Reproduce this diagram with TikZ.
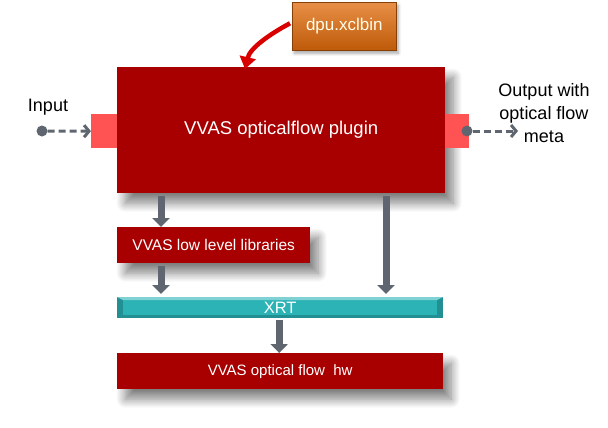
\documentclass[tikz,border=0pt]{standalone}
\usepackage{fontspec}
\setmainfont{Liberation Sans}
\usetikzlibrary{arrows.meta,shadows,shadows.blur,shapes.geometric}
\definecolor{dred}{HTML}{A80000}
\definecolor{pinkport}{HTML}{FF5252}
\definecolor{garrow}{HTML}{5F6670}
\definecolor{orng}{HTML}{E06A0A}
\definecolor{teal}{HTML}{2BB3B6}
\tikzset{
  redbox/.style={fill=dred, draw=none, text=white,
    blur shadow={shadow xshift=8pt, shadow yshift=-10pt, shadow blur steps=14, shadow blur radius=9pt, shadow opacity=50}},
  port/.style={fill=pinkport, draw=none},
  bigarrow/.style={draw=garrow, line width=7pt, -{Triangle[width=17pt,length=9pt]}},
  dasharrow/.style={draw=garrow, line width=3pt, dash pattern=on 7pt off 4pt, -{Straight Barb[length=5pt,width=12pt,line width=3pt]}},
  dotnode/.style={circle, fill=garrow, inner sep=0pt, minimum size=11pt},
  lbl/.style={text=black, font=\fontsize{18}{20}\selectfont, align=center}
}
\begin{document}
\begin{tikzpicture}[x=1pt,y=-1pt]
\useasboundingbox (0,0) rectangle (608,428);
% main plugin box
\node[redbox, minimum width=328pt, minimum height=126pt, anchor=north west, inner sep=0pt, font=\fontsize{18.5}{22}\selectfont] (plugin) at (117,67) {VVAS opticalflow plugin};
% ports
\node[port, minimum width=26pt, minimum height=34pt, inner sep=0pt, anchor=north west] (inport) at (91,114) {};
\node[port, minimum width=24pt, minimum height=34pt, inner sep=0pt, anchor=north west] (outport) at (445,114) {};
% dpu box
\node[anchor=north west, minimum width=104pt, minimum height=48pt, inner sep=0pt, top color=orng!75!white, bottom color=orng!85!black, draw=orng!60!black, line width=0.6pt, text=white!92!yellow, font=\fontsize{17}{19}\selectfont,
  blur shadow={shadow xshift=2pt, shadow yshift=-3pt, shadow blur steps=6, shadow blur radius=3pt, shadow opacity=35}] (dpu) at (292,2) {dpu.xclbin};
% low level box
\node[redbox, anchor=north west, minimum width=193pt, minimum height=36pt, inner sep=0pt, font=\fontsize{15.5}{18}\selectfont] (lib) at (117,227) {VVAS low level libraries};
% XRT bar
\fill[teal!80!black] (117,297) -- (443,297) -- (443,318) -- (117,318) -- cycle;
\fill[teal] (123,300) -- (437,300) -- (437,315) -- (123,315) -- cycle;
\fill[teal!60!white] (117,297) -- (443,297) -- (437,300) -- (123,300) -- cycle;
\node[anchor=north west, minimum width=326pt, minimum height=21pt, inner sep=0pt, text=white, font=\fontsize{16.5}{18}\selectfont] (xrt) at (117,297) {XRT};
% hw box
\node[redbox, anchor=north west, minimum width=326pt, minimum height=36pt, inner sep=0pt, font=\fontsize{15}{18}\selectfont] (hw) at (117,353) {VVAS optical flow\ \ hw};
% big gray arrows
\draw[bigarrow] (plugin.south west) ++(44,3) coordinate (a1) -- (a1 |- lib.north);
\draw[bigarrow] (lib.south west) ++(44,3) coordinate (a2) -- ([yshift=3pt]a2 |- xrt.north);
\draw[bigarrow] (plugin.south west) ++(269,3) coordinate (a3) -- ([yshift=3pt]a3 |- xrt.north);
\draw[bigarrow] (xrt.south) ++(-1,2) coordinate (a4) -- (a4 |- hw.north);
% input / output
\node[dotnode] (indot) at (42,131) {};
\draw[dasharrow] (indot) -- (inport.west);
\node[dotnode] (outdot) at (467,131) {};
\coordinate (outend) at (518,131);
\draw[dasharrow] (outdot) -- (outend);
\node[lbl] (inlbl) at (48,107) {Input};
\node[lbl, font=\fontsize{18}{23}\selectfont] (outlbl) at (544,113) {Output with\\optical flow\\meta};
% red curved arrow
\draw[red!85!black, line width=4.5pt, -{Triangle[width=16pt,length=12pt]}] (dpu.west) ++(-2,-3) coordinate (c0) .. controls (270,34) and (250,48) .. (245,69);
\end{tikzpicture}
\end{document}
